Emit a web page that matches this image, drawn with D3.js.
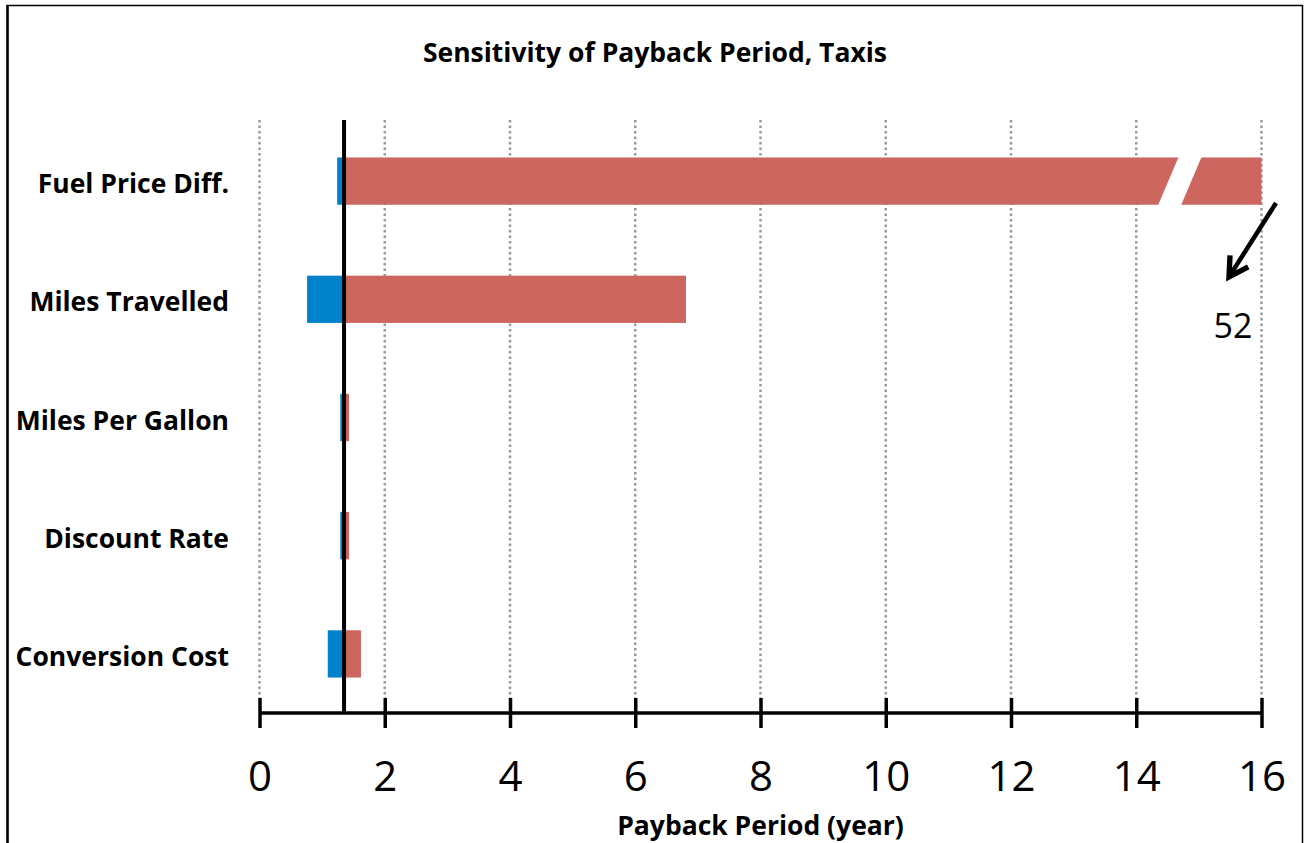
<!DOCTYPE html>
<html>
<head>
<meta charset="utf-8">
<script src="https://cdn.jsdelivr.net/npm/d3@7"></script>
<style>
body { margin: 0; background: #fff; }
</style>
</head>
<body>
<script>
// sensitivity of payback period (years)
var categories = ["Fuel Price Diff.", "Miles Travelled", "Miles Per Gallon", "Discount Rate", "Conversion Cost"];
var lowValues = [1.24, 0.76, 1.29, 1.29, 1.09];
var highValues = [52, 6.81, 1.43, 1.43, 1.62];
var baseValue = 1.35;
var xTicks = [0, 2, 4, 6, 8, 10, 12, 14, 16];

var width = 1305, height = 843;
var plotLeft = 259.5, plotRight = 1261.5, plotTop = 122, plotBottom = 713;

var svg = d3.select('body')
        .append("svg")
        .attr("width", width)
        .attr("height", height);

// outer frame
svg.append("rect")
        .attr("x", 7.5)
        .attr("y", 5.5)
        .attr("width", 1295)
        .attr("height", 860)
        .attr("fill", "none")
        .attr("stroke", "black")
        .attr("stroke-width", 1.5);
svg.append("line")
        .attr("x1", 7.5).attr("x2", 7.5)
        .attr("y1", 5).attr("y2", height)
        .attr("stroke", "black")
        .attr("stroke-width", 2.5);

var x = d3.scaleLinear()
        .domain([0, 16])
        .range([plotLeft, plotRight]);

var y = d3.scaleBand()
        .domain(categories)
        .range([plotTop, plotBottom])
        .paddingInner(0.6)
        .paddingOuter(0.3);

// dotted gridlines
svg.selectAll('.grid')
        .data(xTicks)
        .enter()
        .append("line")
        .attr("class", "grid")
        .attr("x1", function(d) { return x(d); })
        .attr("x2", function(d) { return x(d); })
        .attr("y1", 120)
        .attr("y2", 698)
        .attr("stroke", "#9a9a9a")
        .attr("stroke-width", 2.5)
        .attr("stroke-dasharray", "2.5,3");

// low side bars (blue)
svg.selectAll('.low')
        .data(categories)
        .enter()
        .append("rect")
        .attr("class", "low")
        .attr("x", function(d, i) { return x(lowValues[i]); })
        .attr("y", function(d) { return y(d); })
        .attr("width", function(d, i) { return x(baseValue) - x(lowValues[i]); })
        .attr("height", y.bandwidth())
        .attr("fill", "#0082CB");

// high side bars (red), clipped at axis max
svg.selectAll('.high')
        .data(categories)
        .enter()
        .append("rect")
        .attr("class", "high")
        .attr("x", x(baseValue))
        .attr("y", function(d) { return y(d); })
        .attr("width", function(d, i) { return x(Math.min(highValues[i], 16)) - x(baseValue); })
        .attr("height", y.bandwidth())
        .attr("fill", "#CD665F");

// axis break on the clipped bar
var y0 = y(categories[0]), bh = y.bandwidth();
var bx = x(14.52);
svg.append("polygon")
        .attr("points", [
            [bx + 10, y0 - 1], [bx + 33, y0 - 1],
            [bx + 12, y0 + bh + 1], [bx - 11, y0 + bh + 1]
        ].map(function(p) { return p.join(","); }).join(" "))
        .attr("fill", "white");

// base case line
svg.append("line")
        .attr("x1", x(baseValue))
        .attr("x2", x(baseValue))
        .attr("y1", 120)
        .attr("y2", plotBottom)
        .attr("stroke", "black")
        .attr("stroke-width", 4);

// x axis
var axis = d3.axisBottom(x)
        .tickValues(xTicks)
        .tickSize(0)
        .tickFormat(d3.format("d"));

var g = svg.append("g")
        .attr("transform", "translate(0," + plotBottom + ")")
        .call(axis);
g.select(".domain")
        .attr("stroke", "black")
        .attr("stroke-width", 3.5)
        .attr("d", "M" + plotLeft + ",0H" + plotRight);
g.selectAll(".tick line")
        .attr("y1", -15)
        .attr("y2", 15)
        .attr("stroke", "black")
        .attr("stroke-width", 3.5);
g.selectAll(".tick text")
        .attr("y", 78)
        .attr("dy", 0)
        .attr("fill", "black")
        .style("font-family", "'Open Sans', sans-serif")
        .style("font-size", "42px");

// category labels
svg.selectAll('.cat')
        .data(categories)
        .enter()
        .append("text")
        .attr("class", "cat")
        .attr("x", 229)
        .attr("y", function(d) { return y(d) + bh / 2 + 12; })
        .attr("text-anchor", "end")
        .style("font-family", "'Open Sans', sans-serif")
        .style("font-weight", "bold")
        .style("font-size", "26.5px")
        .text(function(d) { return d; });

// title
svg.append("text")
        .attr("x", 655)
        .attr("y", 62)
        .attr("text-anchor", "middle")
        .style("font-family", "'Open Sans', sans-serif")
        .style("font-weight", "bold")
        .style("font-size", "26.5px")
        .text("Sensitivity of Payback Period, Taxis");

// axis title
svg.append("text")
        .attr("x", (plotLeft + plotRight) / 2)
        .attr("y", 835)
        .attr("text-anchor", "middle")
        .style("font-family", "'Open Sans', sans-serif")
        .style("font-weight", "bold")
        .style("font-size", "26.5px")
        .text("Payback Period (year)");

// arrow pointing to the real value
var defs = svg.append("defs");
defs.append("marker")
        .attr("id", "head")
        .attr("viewBox", "0 0 10 10")
        .attr("refX", 8)
        .attr("refY", 5)
        .attr("markerWidth", 6)
        .attr("markerHeight", 6)
        .attr("orient", "auto")
        .append("path")
        .attr("d", "M1,1 L8,5 L1,9")
        .attr("fill", "none")
        .attr("stroke", "black")
        .attr("stroke-width", 2);

svg.append("line")
        .attr("x1", 1276)
        .attr("y1", 203)
        .attr("x2", 1229)
        .attr("y2", 277)
        .attr("stroke", "black")
        .attr("stroke-width", 4.5)
        .attr("marker-end", "url(#head)");

svg.append("text")
        .attr("x", 1233)
        .attr("y", 338)
        .attr("text-anchor", "middle")
        .style("font-family", "'Open Sans', sans-serif")
        .style("font-size", "34px")
        .text(highValues[0]);
</script>
</body>
</html>
